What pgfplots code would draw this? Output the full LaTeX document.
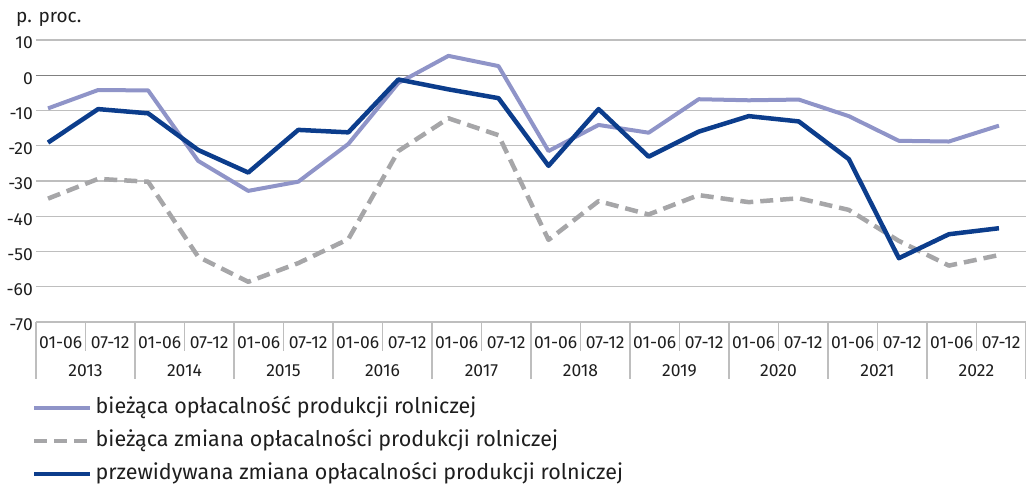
\documentclass[border=0pt]{standalone}
\usepackage{fontspec}
\setmainfont{Fira Sans}
\usepackage{pgfplots}
\pgfplotsset{compat=1.18}
\definecolor{cLight}{RGB}{143,148,200}
\definecolor{cDark}{RGB}{12,61,140}
\definecolor{cGray}{RGB}{166,166,168}
\definecolor{cGrid}{RGB}{190,190,190}
\definecolor{cZero}{RGB}{128,128,128}
\definecolor{cText}{RGB}{30,30,30}

\pgfplotstableread{
i light dark gray
0 -9.4 -19.1 -35
1 -4.2 -9.6 -29.4
2 -4.3 -10.8 -30.2
3 -24.3 -21.2 -51.5
4 -32.8 -27.6 -58.6
5 -30.2 -15.5 -53.3
6 -19.5 -16.2 -46.5
7 -2.2 -1.2 -21.5
8 5.5 -4.0 -12.2
9 2.6 -6.5 -17
10 -21.5 -25.7 -46.7
11 -14.1 -9.6 -35.7
12 -16.3 -23.1 -39.5
13 -6.8 -16.0 -34
14 -7.1 -11.6 -36
15 -6.9 -13.1 -34.9
16 -11.6 -23.8 -38.2
17 -18.6 -51.9 -47
18 -18.8 -45.1 -54
19 -14.3 -43.4 -51
}\datatable

\begin{document}
\begin{tikzpicture}
\path[use as bounding box] (0,0) rectangle (1026pt,487pt);
\begin{axis}[
 at={(36pt,165pt)}, anchor=south west, scale only axis,
 width=990pt, height=282pt,
 xmin=-0.24, xmax=19.54, ymin=-70, ymax=10,
 axis line style={draw=none},
 xtick=\empty,
 ytick={-70,-60,...,10},
 yticklabels={-70,-60,-50,-40,-30,-20,-10,0,10},
 major tick length=0pt,
 ymajorgrids, grid style={cGrid, line width=1.3pt},
 yticklabel style={font=\fontsize{17.5}{19}\selectfont, text=cText, anchor=east, inner sep=0pt, xshift=-3pt, yshift=-3pt},
 extra y ticks={0}, extra y tick labels={},
 extra y tick style={grid style={cZero, line width=1.3pt}},
 clip=false,
 legend style={draw=none, fill=none, at={(0,0)}, anchor=north west,
   xshift=-4pt, yshift=-77pt, inner sep=0pt, row sep=15pt,
   font=\fontsize{21.5}{24}\selectfont, text=cText,
   nodes={inner sep=0pt, text height=14pt, text depth=4pt},
   /tikz/column sep=3pt},
 legend cell align=left,
 legend image code/.code={\draw[#1] (0pt,0pt) -- (56pt,0pt);},
]
\addplot[cLight, line width=4pt, line join=round] table[x=i, y=light] {\datatable};
\addlegendentry{bieżąca opłacalność produkcji rolniczej}
\addplot[cGray, line width=4.5pt, dash pattern=on 13pt off 7pt, line join=round] table[x=i, y=gray] {\datatable};
\addlegendentry{bieżąca zmiana opłacalności produkcji rolniczej}
\addplot[cDark, line width=4.5pt, line join=round] table[x=i, y=dark] {\datatable};
\addlegendentry{przewidywana zmiana opłacalności produkcji rolniczej}
\end{axis}
% category separators and labels
\foreach \k in {1,3,...,19} \draw[cGrid, line width=1.3pt] (36pt+49.5pt*\k,165pt) -- ++(0,-29pt);
\foreach \k in {0,2,...,20} \draw[cGrid, line width=1.3pt] (36pt+49.5pt*\k,165pt) -- ++(0,-57pt);
\foreach \j [count=\c from 0] in {2013,2014,2015,2016,2017,2018,2019,2020,2021,2022} {
  \node[text=cText, font=\fontsize{17.5}{19}\selectfont, inner sep=0pt] at (36pt+49.5pt*2*\c+24.75pt,144pt) {01-06};
  \node[text=cText, font=\fontsize{17.5}{19}\selectfont, inner sep=0pt] at (36pt+49.5pt*2*\c+74.25pt,144pt) {07-12};
  \node[text=cText, font=\fontsize{17.5}{19}\selectfont, inner sep=0pt] at (36pt+49.5pt*2*\c+49.5pt,116pt) {\j};
}
\node[text=cText, font=\fontsize{19}{21}\selectfont, inner sep=0pt, anchor=base west] at (16pt,464pt) {p. proc.};
\end{tikzpicture}
\end{document}
